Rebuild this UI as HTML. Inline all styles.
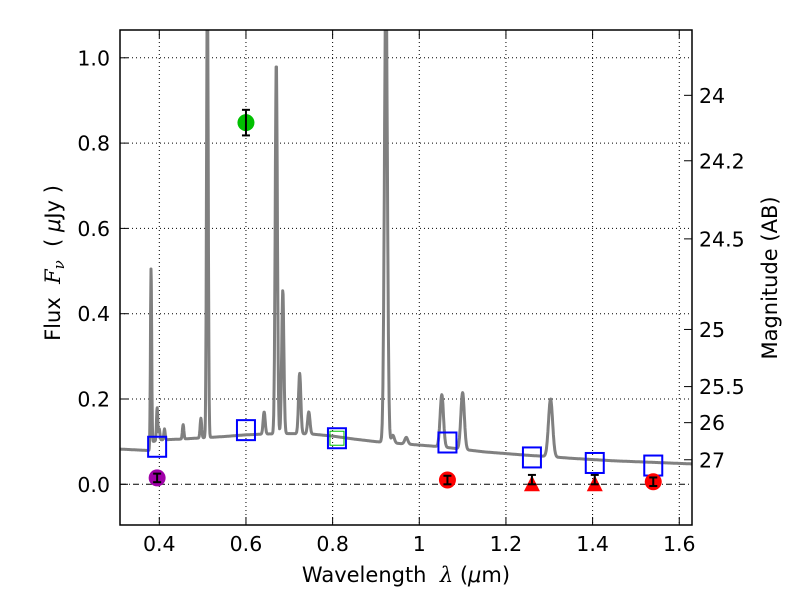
<!DOCTYPE html>
<html><head><meta charset="utf-8">
<style>
html,body{margin:0;padding:0;background:#fff;}
svg{display:block;font-family:"DejaVu Sans","Liberation Sans",sans-serif;}
</style></head>
<body>
<svg id="chart" width="800" height="600" viewBox="0 0 800 600" xmlns="http://www.w3.org/2000/svg">
<rect width="800" height="600" fill="#fff"/>
<g id="grid"></g>
<g id="spec"></g>
<g id="marks"></g>
<g id="axes"></g>
</svg>
<script>
// ---- data ----
const contWave = [0.30,0.34,0.38,0.385,0.40,0.45,0.50,0.55,0.60,0.65,0.70,0.75,0.80,0.85,0.90,0.95,1.00,1.05,1.10,1.15,1.20,1.25,1.30,1.35,1.40,1.45,1.50,1.55,1.60,1.65];
const contFlux = [0.083,0.081,0.079,0.100,0.104,0.106,0.109,0.112,0.116,0.118,0.119,0.118,0.113,0.106,0.100,0.096,0.092,0.088,0.082,0.076,0.072,0.068,0.065,0.061,0.058,0.055,0.053,0.051,0.049,0.047];
const lineWave = [0.381,0.395,0.400,0.412,0.455,0.496,0.511,0.642,0.670,0.685,0.724,0.745,0.923,0.939,0.970,1.052,1.100,1.303];
const linePeak = [0.51,0.18,0.13,0.13,0.14,0.155,1.2,0.17,0.99,0.455,0.26,0.17,1.2,0.115,0.11,0.21,0.215,0.20];
const modelWave = [0.395,0.600,0.810,1.065,1.260,1.405,1.540];
const modelFlux = [0.088,0.127,0.108,0.098,0.063,0.050,0.044];
const obsWave = [0.395,0.600,1.065,1.540];
const obsFlux = [0.015,0.848,0.010,0.006];
const obsErr = [0.010,0.030,0.010,0.010];
const obsColor = ["#a000a8","#00c000","#ff0000","#ff0000"];
const limWave = [1.260,1.405];
const limFlux = [0.0,0.0];
const limErr = [0.022,0.022];
const innerWave = [0.810];
const innerFlux = [0.108];
const xTicks = [0.4,0.6,0.8,1.0,1.2,1.4,1.6];
const xTickLabels = ["0.4","0.6","0.8","1","1.2","1.4","1.6"];
const yTicks = [0.0,0.2,0.4,0.6,0.8,1.0];
const yTickLabels = ["0.0","0.2","0.4","0.6","0.8","1.0"];
const magTicks = [24,24.2,24.5,25,25.5,26,27];
const magTickLabels = ["24","24.2","24.5","25","25.5","26","27"];

// ---- scales ----
const L=120,R=692,T=30,B=525;
const X=w=>159.3+(w-0.4)*433.3;
const Y=f=>484.3-f*426.5;
const NS="http://www.w3.org/2000/svg";
function mk(tag,attrs,parent){const e=document.createElementNS(NS,tag);for(const k in attrs)e.setAttribute(k,attrs[k]);parent.appendChild(e);return e;}
const grid=document.getElementById('grid'),spec=document.getElementById('spec'),marks=document.getElementById('marks'),axes=document.getElementById('axes');

// grid
xTicks.forEach(t=>{const l=mk('line',{x1:X(t),x2:X(t),y1:T,y2:B,stroke:'#000','stroke-width':1,'stroke-dasharray':'1,3'},grid);

});
yTicks.forEach(t=>{const l=mk('line',{x1:L,x2:R,y1:Y(t),y2:Y(t),stroke:'#000','stroke-width':1,'stroke-dasharray':t===0?'6,3,1,3':'1,3'},grid);

});

// spectrum
function cont(w){for(let i=0;i<contWave.length-1;i++){if(w<=contWave[i+1]){const a=(w-contWave[i])/(contWave[i+1]-contWave[i]);return contFlux[i]+a*(contFlux[i+1]-contFlux[i]);}}return contFlux[contFlux.length-1];}
let pts=[];
for(let w=0.30;w<=1.65;w+=0.0008){let f=cont(w);lineWave.forEach((c,i)=>{const s=0.0022*c/0.6;const g=(linePeak[i]-cont(c))*Math.exp(-0.5*((w-c)/s)**2);if(g>0)f+=g;});pts.push([w,f]);}
mk('clipPath',{id:'clip'},document.getElementById('chart'));
mk('rect',{x:L,y:T,width:R-L,height:B-T},document.getElementById('clip'));
const sp=mk('polyline',{points:pts.map(p=>X(p[0]).toFixed(1)+','+Y(p[1]).toFixed(1)).join(' '),fill:'none',stroke:'#808080','stroke-width':3,'clip-path':'url(#clip)','stroke-linejoin':'round'},spec);



// model squares
modelWave.forEach((w,i)=>{const r=mk('rect',{x:X(w)-9,y:Y(modelFlux[i])-10,width:18,height:20,fill:'none',stroke:'#0000ff','stroke-width':2},marks);

});
innerWave.forEach((w,i)=>{const r=mk('rect',{x:X(w)-7,y:Y(innerFlux[i])-7,width:14,height:14,fill:'none',stroke:'#00c000','stroke-width':1},marks);

});
function errbar(x,y1,y2){mk('line',{x1:x,x2:x,y1:y1,y2:y2,stroke:'#000','stroke-width':2},marks);mk('line',{x1:x-4,x2:x+4,y1:y1,y2:y1,stroke:'#000','stroke-width':2},marks);mk('line',{x1:x-4,x2:x+4,y1:y2,y2:y2,stroke:'#000','stroke-width':2},marks);}
obsWave.forEach((w,i)=>{const c=mk('circle',{cx:X(w),cy:Y(obsFlux[i]),r:8.5,fill:obsColor[i]},marks);


errbar(X(w),Y(obsFlux[i]+obsErr[i]),Y(obsFlux[i]-obsErr[i]));});
limWave.forEach((w,i)=>{const x=X(w),y=Y(limFlux[i]);const t=mk('polygon',{points:`${x},${y-9} ${x-8},${y+7} ${x+8},${y+7}`,fill:'#ff0000'},marks);


errbar(x,Y(limFlux[i]+limErr[i]),y);});

// axes frame and ticks
const fr=mk('rect',{x:L,y:T,width:R-L,height:B-T,fill:'none',stroke:'#000','stroke-width':1.5},axes);


xTicks.forEach((t,i)=>{mk('line',{x1:X(t),x2:X(t),y1:B,y2:B-8,stroke:'#000'},axes);mk('line',{x1:X(t),x2:X(t),y1:T,y2:T+8,stroke:'#000'},axes);
const tx=mk('text',{x:X(t),y:B+26,'font-size':20.5,'text-anchor':'middle'},axes);tx.textContent=xTickLabels[i];

});
yTicks.forEach((t,i)=>{mk('line',{x1:L,x2:L+8,y1:Y(t),y2:Y(t),stroke:'#000'},axes);
const tx=mk('text',{x:L-10,y:Y(t)+7.5,'font-size':20.5,'text-anchor':'end'},axes);tx.textContent=yTickLabels[i];

});
magTicks.forEach((m,i)=>{const y=Y(Math.pow(10,(23.9-m)/2.5));mk('line',{x1:R,x2:R-8,y1:y,y2:y,stroke:'#000'},axes);
const tx=mk('text',{x:R+7,y:y+7.5,'font-size':20.5},axes);tx.textContent=magTickLabels[i];

});
</script>
<svg style="position:absolute;left:0;top:0" width="800" height="600">
<text x="406" y="582" font-size="21" text-anchor="middle" font-family="DejaVu Sans, sans-serif" xml:space="preserve">Wavelength  <tspan font-style="italic" font-family="DejaVu Serif, serif">λ</tspan> (<tspan font-style="italic">μ</tspan>m)</text>
<text transform="translate(60,263) rotate(-90)" font-size="21" text-anchor="middle" font-family="DejaVu Sans, sans-serif" xml:space="preserve">Flux  <tspan font-style="italic" font-family="DejaVu Serif, serif">F<tspan font-size="15" dy="4">ν</tspan></tspan><tspan dy="-4">  ( </tspan><tspan font-style="italic">μ</tspan>Jy )</text>
<text transform="translate(777,278) rotate(-90)" font-size="21" text-anchor="middle" font-family="DejaVu Sans, sans-serif">Magnitude (AB)</text>
</svg>
</body></html>
